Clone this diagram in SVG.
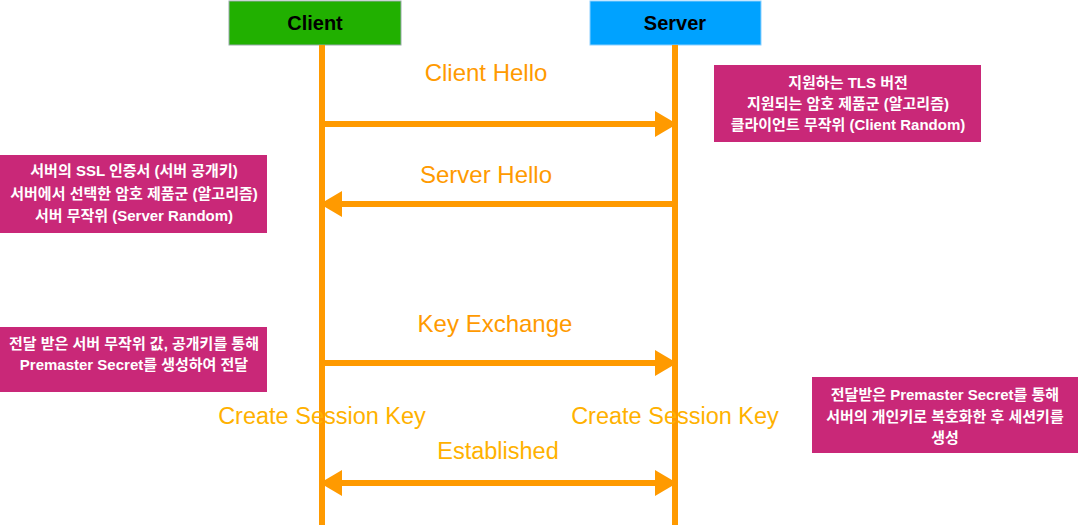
<svg xmlns="http://www.w3.org/2000/svg" width="1080" height="525" viewBox="0 0 1080 525">
<style>
.hdr{font-family:"Liberation Sans","Noto Sans CJK KR",sans-serif;font-size:20px;fill:#000;text-anchor:middle;font-weight:bold}
.lbl{font-family:"Liberation Sans","Noto Sans CJK KR",sans-serif;font-size:24px;fill:#ff9a00;text-anchor:middle}
.lbl2{font-family:"Liberation Sans","Noto Sans CJK KR",sans-serif;font-size:23.5px;fill:#ffb100;text-anchor:middle}
.note rect{fill:#c92878}
.note text{font-family:"Liberation Sans","Noto Sans CJK KR",sans-serif;font-size:15px;fill:#fff;text-anchor:middle;font-weight:bold}
.life{stroke:#ff9a00;stroke-width:6;fill:none}
.msg{stroke:#ff9a00;stroke-width:6;fill:none}
</style>
<defs>
<marker id="ah" markerWidth="22" markerHeight="26" refX="20" refY="13" orient="auto-start-reverse" markerUnits="userSpaceOnUse">
<path d="M0,0 L22,13 L0,26 Z" fill="#ff9a00"/>
</marker>
</defs>
<rect width="1080" height="525" fill="#fff"/>
<g id="client">
<rect x="229" y="1" width="172" height="44" fill="#21b000" stroke="#9aa" stroke-width="1"/>
<text class="hdr" x="315" y="30">Client</text>
</g>
<g id="server">
<rect x="590" y="1" width="171" height="44" fill="#00a2ff" stroke="#8cd0ff" stroke-width="1"/>
<text class="hdr" x="675" y="30">Server</text>
</g>
<g id="connectors">
<line class="life" x1="322" y1="45" x2="322" y2="525"/>
<line class="life" x1="675" y1="45" x2="675" y2="525"/>
<line class="msg" x1="322" y1="124" x2="675" y2="124" marker-end="url(#ah)"/>
<line class="msg" x1="675" y1="204" x2="322" y2="204" marker-end="url(#ah)"/>
<line class="msg" x1="322" y1="363" x2="675" y2="363" marker-end="url(#ah)"/>
<line class="msg" x1="322" y1="483" x2="675" y2="483" marker-start="url(#ah)" marker-end="url(#ah)"/>
</g>
<g id="labels">
<text class="lbl" x="486" y="81">Client Hello</text>
<text class="lbl" x="486" y="183">Server Hello</text>
<text class="lbl" x="495" y="332">Key Exchange</text>
<text class="lbl2" x="322" y="424">Create Session Key</text>
<text class="lbl2" x="675" y="424">Create Session Key</text>
<text class="lbl2" x="498" y="459">Established</text>
</g>
<g id="note-client-hello" class="note">
<rect x="714" y="65" width="267" height="77"/>
<text x="848" y="88">지원하는 TLS 버전</text>
<text x="848" y="109">지원되는 암호 제품군 (알고리즘)</text>
<text x="848" y="130">클라이언트 무작위 (Client Random)</text>
</g>
<g id="note-server-hello" class="note">
<rect x="0" y="155" width="267" height="78"/>
<text x="134" y="176">서버의 SSL 인증서 (서버 공개키)</text>
<text x="134" y="199">서버에서 선택한 암호 제품군 (알고리즘)</text>
<text x="134" y="221">서버 무작위 (Server Random)</text>
</g>
<g id="note-key-exchange" class="note">
<rect x="0" y="327" width="267" height="65"/>
<text x="134" y="349">전달 받은 서버 무작위 값, 공개키를 통해</text>
<text x="134" y="370">Premaster Secret를 생성하여 전달</text>
</g>
<g id="note-server-key" class="note">
<rect x="812" y="377" width="266" height="76"/>
<text x="945" y="400">전달받은 Premaster Secret를 통해</text>
<text x="945" y="422">서버의 개인키로 복호화한 후 세션키를</text>
<text x="945" y="443">생성</text>
</g>
</svg>
